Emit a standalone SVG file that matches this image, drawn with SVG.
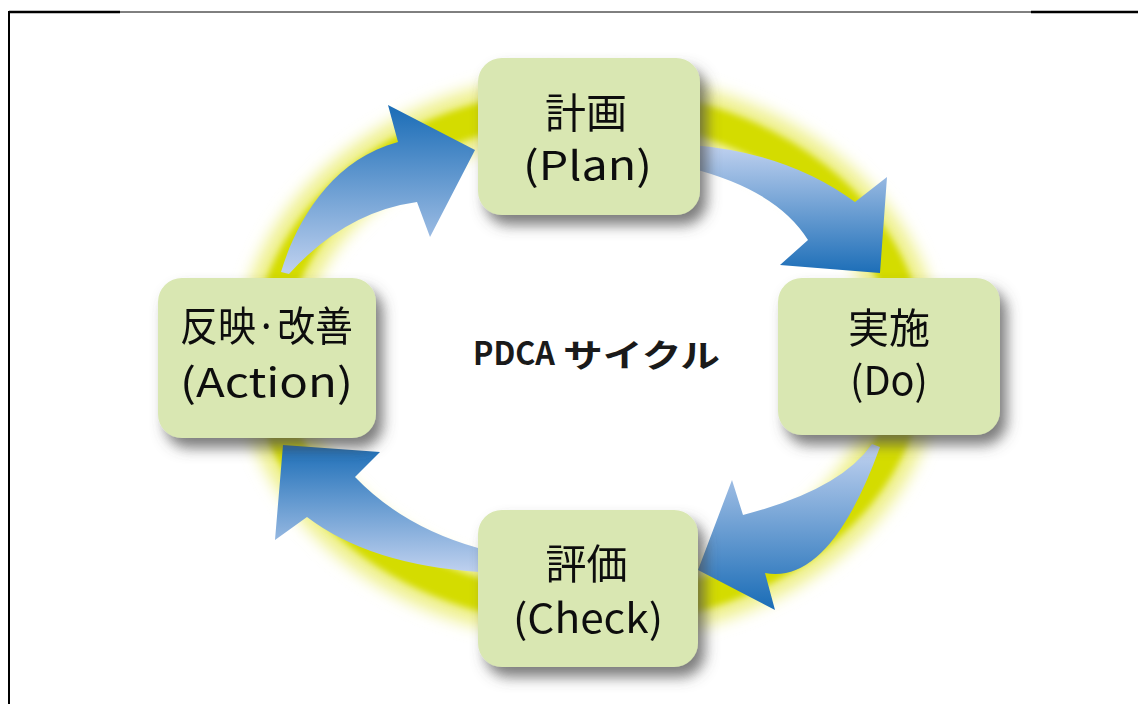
<svg xmlns="http://www.w3.org/2000/svg" width="1138" height="704" viewBox="0 0 1138 704">
<style>
.box{fill:#d9e7b2;}
.jp{font-family:'Noto Sans CJK JP','Noto Sans',sans-serif;font-size:41px;fill:#111;text-anchor:middle;}
.lt{font-family:'Noto Sans CJK JP','Noto Sans',sans-serif;font-size:40px;fill:#111;text-anchor:middle;}
.ttl{font-family:'Noto Sans CJK JP','Noto Sans',sans-serif;font-weight:bold;font-size:32px;fill:#1a1a1a;}
</style>
<defs>
<filter id="shadow" x="-20%" y="-20%" width="150%" height="150%">
<feGaussianBlur in="SourceAlpha" stdDeviation="7"/>
<feOffset dx="7" dy="10" result="b"/>
<feFlood flood-color="#505050" flood-opacity="0.75"/>
<feComposite in2="b" operator="in"/>
<feMerge><feMergeNode/><feMergeNode in="SourceGraphic"/></feMerge>
</filter>
<filter id="glow" x="-20%" y="-20%" width="140%" height="140%">
<feGaussianBlur stdDeviation="8"/>
</filter>
<filter id="soft" x="-20%" y="-20%" width="140%" height="140%">
<feGaussianBlur stdDeviation="3"/>
</filter>
<linearGradient id="g1" gradientUnits="userSpaceOnUse" x1="0" y1="110" x2="0" y2="270">
<stop offset="0" stop-color="#1e6fb8"/><stop offset="1" stop-color="#bccfee"/>
</linearGradient>
<linearGradient id="g2" gradientUnits="userSpaceOnUse" x1="0" y1="148" x2="0" y2="272">
<stop offset="0" stop-color="#bccfee"/><stop offset="1" stop-color="#1e6fb8"/>
</linearGradient>
<linearGradient id="g3" gradientUnits="userSpaceOnUse" x1="0" y1="450" x2="0" y2="605">
<stop offset="0" stop-color="#bccfee"/><stop offset="1" stop-color="#1e6fb8"/>
</linearGradient>
<linearGradient id="g4" gradientUnits="userSpaceOnUse" x1="0" y1="448" x2="0" y2="570">
<stop offset="0" stop-color="#1e6fb8"/><stop offset="1" stop-color="#bccfee"/>
</linearGradient>
</defs>
<rect width="1138" height="704" fill="#ffffff"/>
<g id="frame" stroke="#000" fill="none">
<line x1="9" y1="12" x2="1138" y2="12" stroke-width="1"/>
<line x1="9" y1="12" x2="120" y2="12" stroke-width="2.5"/>
<line x1="1031" y1="12" x2="1138" y2="12" stroke-width="2.5"/>
<line x1="9" y1="11" x2="9" y2="704" stroke-width="2"/>
</g>
<g id="ring">
<ellipse cx="589" cy="357" rx="321" ry="253" fill="none" stroke="#eef08a" stroke-width="62" filter="url(#glow)"/>
<ellipse cx="589" cy="357" rx="321" ry="253" fill="none" stroke="#d4dc00" stroke-width="32" filter="url(#soft)"/>
</g>
<g id="connectors">
<path d="M281,272 C295,225 330,160 398,142 L388,105 L475,150 L430,237 L417,202 Q345,212 289,274 Z" fill="url(#g1)"/>
<path d="M690,145 Q787,152 855,202 L887,177 L880,273 L780,265 L808,240 Q777,190 690,168 Z" fill="url(#g2)"/>
<path d="M872,444 Q840,490 743,515 L732,480 L698,570 L775,610 L765,573 Q830,585 880,447 Z" fill="url(#g3)"/>
<path d="M478,548 Q403,527 355,477 L380,452 L283,445 L275,540 L307,517 Q370,565 480,572 Z" fill="url(#g4)"/>
</g>
<g id="plan" filter="url(#shadow)">
<rect class="box" x="478" y="58" width="222" height="157" rx="24"/>
<text class="jp" x="586" y="128">計画</text>
<text class="lt" x="587.5" y="180" textLength="129" lengthAdjust="spacingAndGlyphs">(Plan)</text>
</g>
<g id="do" filter="url(#shadow)">
<rect class="box" x="778" y="278" width="222" height="157" rx="24"/>
<text class="jp" x="889" y="343">実施</text>
<text class="lt" x="889" y="395" textLength="78" lengthAdjust="spacingAndGlyphs">(Do)</text>
</g>
<g id="check" filter="url(#shadow)">
<rect class="box" x="478" y="510" width="220" height="157" rx="24"/>
<text class="jp" x="586.5" y="579">評価</text>
<text class="lt" x="588" y="633" textLength="150" lengthAdjust="spacingAndGlyphs">(Check)</text>
</g>
<g id="action" filter="url(#shadow)">
<rect class="box" x="158" y="278" width="218" height="160" rx="24"/>
<text class="jp" x="266.5" y="341" textLength="173" lengthAdjust="spacingAndGlyphs">反映·改善</text>
<text class="lt" x="266.5" y="397" textLength="173" lengthAdjust="spacingAndGlyphs">(Action)</text>
</g>
<g id="title">
<text class="ttl" x="473" y="365" textLength="82" lengthAdjust="spacingAndGlyphs">PDCA</text>
<text class="ttl" x="563" y="367" textLength="157" lengthAdjust="spacingAndGlyphs">サイクル</text>
</g>
</svg>
